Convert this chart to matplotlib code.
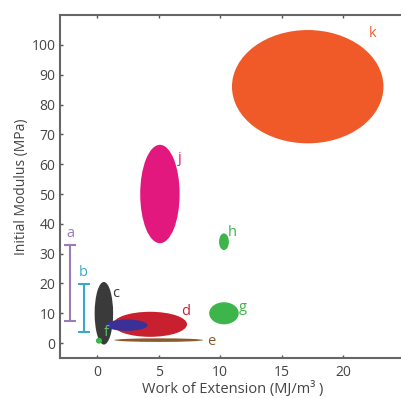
import matplotlib
matplotlib.use("Agg")
import matplotlib.pyplot as plt
from matplotlib.patches import Ellipse

plt.rcParams['font.family'] = ['Open Sans', 'DejaVu Sans']

# ellipses: name, x centre, y centre, width, height, colour
names = ["k", "j", "h", "g", "c", "d", "i", "e", "f"]
xc = [17.1, 5.1, 10.3, 10.3, 0.55, 4.3, 2.4, 5.0, 0.15]
yc = [86.0, 50.0, 34.0, 10.0, 10.0, 6.3, 6.0, 1.0, 0.8]
widths = [12.3, 3.2, 0.8, 2.4, 1.5, 6.0, 3.4, 7.2, 0.5]
heights = [38.0, 33.0, 5.6, 7.4, 21.0, 8.4, 3.8, 1.2, 2.0]
colors = ["#f05a28", "#e2187f", "#3db54a", "#3db54a", "#3a3a3a",
          "#c8202f", "#3b2f98", "#8a5a2e", "#3db54a"]

# labels for the ellipses
lab_names = ["k", "j", "h", "g", "c", "d", "e", "f"]
lab_x = [22.4, 6.7, 11.0, 11.8, 1.5, 7.2, 9.3, 0.75]
lab_y = [104.0, 62.0, 37.0, 12.0, 16.5, 10.5, 0.7, 3.5]
lab_colors = ["#f05a28", "#e2187f", "#3db54a", "#3db54a", "#3a3a3a",
              "#c8202f", "#8a5a2e", "#5cc266"]

# range bars a and b
bar_names = ["a", "b"]
bar_x = [-2.2, -1.1]
bar_lo = [7.5, 3.8]
bar_hi = [33.0, 19.8]
bar_colors = ["#9b7bb8", "#3aa8c8"]

fig = plt.figure(figsize=(4.01, 3.98), dpi=100)
ax = fig.add_axes([0.150, 0.1005, 0.860, 0.8615])

for n, x, y, w, h, c in zip(names, xc, yc, widths, heights, colors):
    ax.add_patch(Ellipse((x, y), w, h, facecolor=c, edgecolor="none"))

for n, x, y, c in zip(lab_names, lab_x, lab_y, lab_colors):
    ax.text(x, y, n, color=c, fontsize=10.5, ha="center", va="center")

for n, x, lo, hi, c in zip(bar_names, bar_x, bar_lo, bar_hi, bar_colors):
    mid = (lo + hi) / 2
    ax.errorbar([x], [mid], yerr=[[mid - lo], [hi - mid]], fmt="none",
                ecolor=c, elinewidth=1.5, capsize=4, capthick=1.5)
    ax.text(x, hi + 3.8, n, color=c, fontsize=10.5, ha="center", va="center")

ax.set_xlim(-3, 25)
ax.set_ylim(-5, 110)
ax.set_xticks([0, 5, 10, 15, 20])
ax.set_yticks(range(0, 101, 10))
ax.tick_params(direction="in", length=2.5, width=1, colors="#555555",
               labelcolor="#444444", labelsize=10, top=True, right=True)
ax.tick_params(axis="x", pad=5)
for s in ax.spines.values():
    s.set_color("#666666")
    s.set_linewidth(1.5)

ax.set_xlabel("Work of Extension (MJ/m\u00b3 )", fontsize=10.5, color="#444444",
              labelpad=1)
ax.set_ylabel("Initial Modulus (MPa)", fontsize=10, color="#444444",
              labelpad=2)

fig.savefig("out.png", dpi=100)
